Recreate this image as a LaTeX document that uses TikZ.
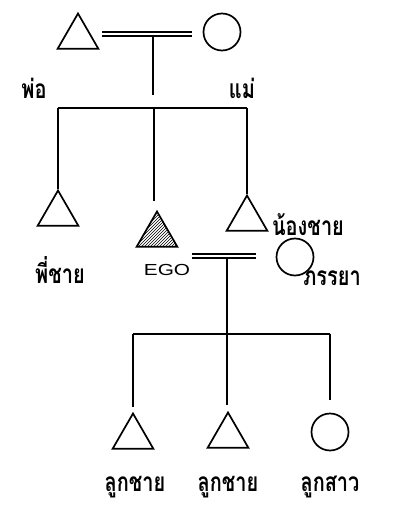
\documentclass[tikz,border=0pt]{standalone}
\usepackage{fontspec}
\newfontfamily\thaifont[Script=Thai]{Loma}
\newfontfamily\egofont{Liberation Sans}
\usetikzlibrary{shapes.geometric,patterns}
\newcommand{\kintall}[1]{\scalebox{0.95}[1.25]{#1}}

\begin{document}
\begin{tikzpicture}[x=1pt,y=-1pt]
  \tikzstyle{male}=[draw,line width=1.7pt,regular polygon,regular polygon sides=3,minimum size=47pt,inner sep=0pt]
  \tikzstyle{female}=[draw,line width=1.7pt,circle,minimum size=37pt,inner sep=0pt]
  \tikzstyle{kinlbl}=[font=\thaifont\bfseries\fontsize{21}{24}\selectfont,inner sep=0pt]
  \tikzstyle{egolbl}=[font=\egofont\fontsize{16}{18}\selectfont,inner sep=0pt]
  \tikzstyle{wed}=[double,double distance=2.6pt,line width=1.4pt]
  \tikzstyle{kinline}=[line width=1.8pt]
  \useasboundingbox (0,0) rectangle (407,511);
  % parents
  \node[male] (father) at (78,37) {};
  \node[female] (mother) at (222,32) {};
  \node[kinlbl] (lfather) at (34,88) {\kintall{พ่อ}};
  \node[kinlbl] (lmother) at (242,88) {\kintall{แม่}};
  \coordinate (wed1) at (153,34);
  \coordinate (fam1) at (153,95);
  \coordinate (bar1) at (154,108);
  \draw[wed,shorten <=24pt,shorten >=11pt] (father.center |- wed1) -- (mother.west |- wed1);
  \draw[kinline] ([yshift=-2pt]wed1) -- (fam1);
  % siblings
  \node[male] (bro) at (58,214) {};
  \node[male,pattern=north east lines] (ego) at (157,235) {};
  \node[male] (ybro) at (247,219) {};
  \node[kinlbl] (lbro) at (60,270) {\kintall{พี่ชาย}};
  \node[egolbl] (lego) at (167,270) {\scalebox{1.3}[1]{EGO}};
  \node[kinlbl] (lybro) at (308,225) {\kintall{น้องชาย}};
  \draw[kinline] (bro.north |- bar1) -- (ybro.north |- bar1);
  \draw[kinline] (bro.north |- bar1) -- (bro.north);
  \draw[kinline,shorten >=9pt] (bar1) -- (bar1 |- ego.north);
  \draw[kinline] (ybro.north |- bar1) -- (ybro.north);
  % wife
  \node[female] (wife) at (295,257) {};
  \node[kinlbl] (lwife) at (332,278) {\kintall{ภรรยา}};
  \coordinate (wed2) at (227,256);
  \coordinate (bar2) at (227,334);
  \draw[wed,shorten >=20pt] ([xshift=-35pt]wed2) -- (wife.west |- wed2);
  \draw[kinline] ([yshift=-2pt]wed2) -- (bar2);
  % children
  \node[male] (son1) at (133,437) {};
  \node[male] (son2) at (228,436) {};
  \node[female] (dau) at (330,432) {};
  \node[kinlbl] (lson1) at (135,487) {\kintall{ลูกชาย}};
  \node[kinlbl] (lson2) at (228,487) {\kintall{ลูกชาย}};
  \node[kinlbl] (ldau) at (330,487) {\kintall{ลูกสาว}};
  \draw[kinline] (son1.north |- bar2) -- (dau.north |- bar2);
  \draw[kinline,shorten >=5pt] (son1.north |- bar2) -- (son1.north);
  \draw[kinline,shorten >=6pt] (bar2) -- (bar2 |- son2.north);
  \draw[kinline,shorten >=13pt] (dau.north |- bar2) -- (dau.north);
\end{tikzpicture}
\end{document}
